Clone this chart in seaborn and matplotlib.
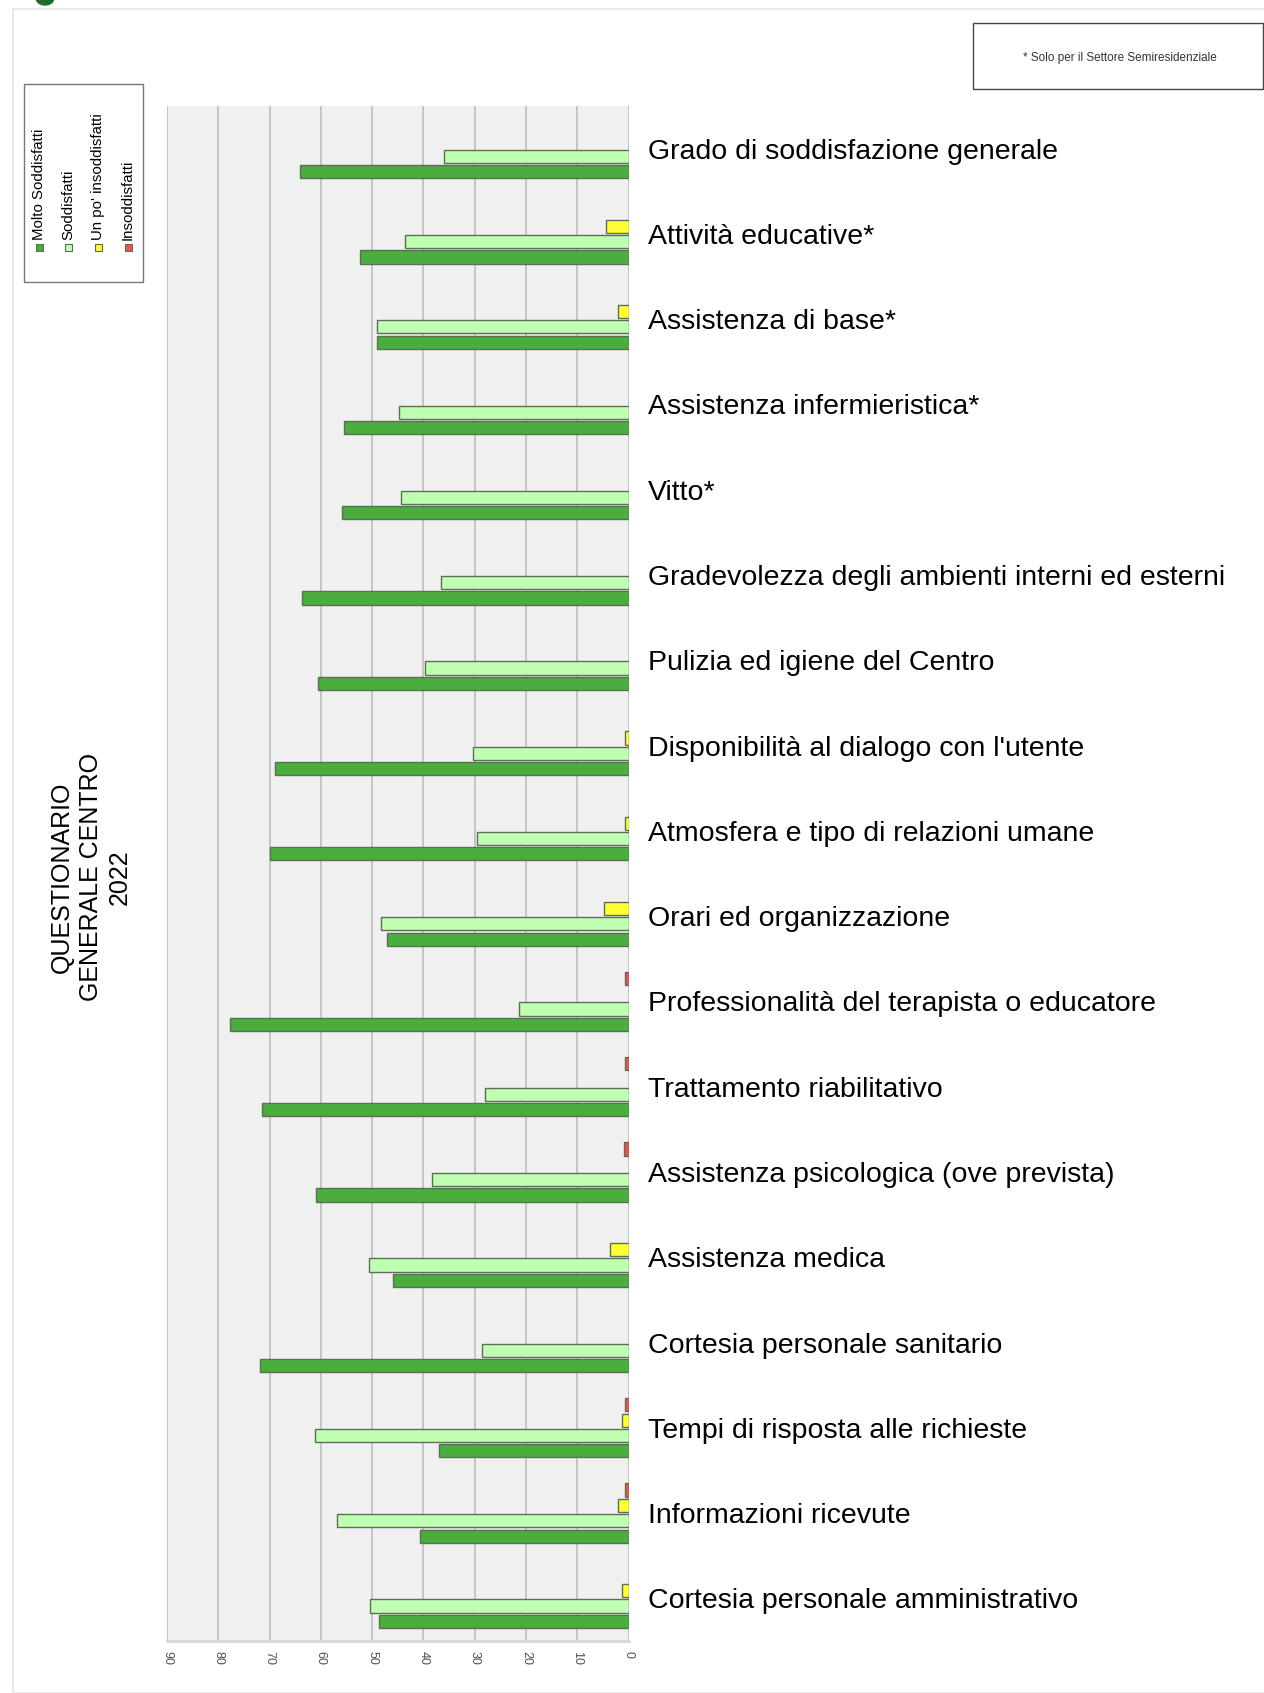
import numpy as np
import pandas as pd
import matplotlib
matplotlib.use("Agg")
import matplotlib.pyplot as plt
from matplotlib.patches import Rectangle, Ellipse
import seaborn as sns

categories = [
    "Grado di soddisfazione generale",
    "Attività educative*",
    "Assistenza di base*",
    "Assistenza infermieristica*",
    "Vitto*",
    "Gradevolezza degli ambienti interni ed esterni",
    "Pulizia ed igiene del Centro",
    "Disponibilità al dialogo con l'utente",
    "Atmosfera e tipo di relazioni umane",
    "Orari ed organizzazione",
    "Professionalità del terapista o educatore",
    "Trattamento riabilitativo",
    "Assistenza psicologica (ove prevista)",
    "Assistenza medica",
    "Cortesia personale sanitario",
    "Tempi di risposta alle richieste",
    "Informazioni ricevute",
    "Cortesia personale amministrativo",
]
molto_soddisfatti = [64.1, 52.3, 49.1, 55.4, 55.9, 63.7, 60.5, 68.9, 70.0, 47.0, 77.8, 71.5, 60.9, 46.0, 71.9, 36.9, 40.7, 48.6]
soddisfatti = [36.0, 43.6, 49.1, 44.7, 44.3, 36.5, 39.6, 30.4, 29.5, 48.3, 21.3, 28.0, 38.4, 50.6, 28.5, 61.1, 56.8, 50.5]
un_po_insoddisfatti = [0, 4.4, 2.1, 0, 0, 0, 0, 0.6, 0.6, 4.8, 0, 0, 0, 3.6, 0, 1.3, 2.1, 1.3]
insoddisfatti = [0, 0, 0, 0, 0, 0, 0, 0, 0, 0, 0.6, 0.6, 0.8, 0, 0, 0.6, 0.6, 0]

series_names = ["Insoddisfatti", "Un po' insoddisfatti", "Soddisfatti", "Molto Soddisfatti"]
series_values = [insoddisfatti, un_po_insoddisfatti, soddisfatti, molto_soddisfatti]
colors = {"Molto Soddisfatti": "#4aae3f", "Soddisfatti": "#bfffb2",
          "Un po' insoddisfatti": "#ffff33", "Insoddisfatti": "#f25050"}
x_ticks = [0, 10, 20, 30, 40, 50, 60, 70, 80, 90]
title_text = "QUESTIONARIO\nGENERALE CENTRO\n2022"
note_text = "* Solo per il Settore Semiresidenziale"

rows = []
for name, vals in zip(series_names, series_values):
    for c, v in zip(categories, vals):
        rows.append({"cat": c, "val": v, "level": name})
df = pd.DataFrame(rows)
df_plot = df[df["val"] > 0]

sns.set_theme(style="white")
plt.rcParams["font.family"] = ["Liberation Sans", "DejaVu Sans"]

W, H = 1264, 1693
fig = plt.figure(figsize=(W / 100, H / 100), dpi=100)
ax = fig.add_axes([167 / W, 1 - 1641 / H, (628.5 - 167) / W, (1641 - 106) / H])
ax.set_facecolor("#f0f0f0")

sns.barplot(data=df_plot, y="cat", x="val", hue="level", order=categories,
            hue_order=series_names, palette=colors, saturation=1, orient="h",
            width=0.72, gap=0.14, edgecolor="#5d6e55", linewidth=1.0,
            legend=False, ax=ax, errorbar=None, zorder=3)

ax.set_xlim(90, 0)
ax.set_ylim(len(categories) - 0.5, -0.5)
ax.set_xticks(x_ticks)
ax.set_xticklabels([str(t) for t in x_ticks], rotation=270, fontsize=9, color="#505050")
ax.tick_params(axis="x", length=0, pad=7)
for t in x_ticks:
    ax.axvline(t, color="#bdbdbd", lw=1.2, zorder=1)
ax.yaxis.tick_right()
ax.set_yticks(range(len(categories)))
ax.set_yticklabels(categories, fontsize=20.5, color="black")
ax.tick_params(axis="y", length=0, pad=14)
ax.set_xlabel("")
ax.set_ylabel("")
for s in ["top", "left", "right"]:
    ax.spines[s].set_visible(False)
ax.spines["bottom"].set_color("#d8d8d8")
ax.spines["bottom"].set_linewidth(2)

# outer frame and logo fragment
fig.patches.append(Rectangle((13 / W, 0), 1.1, 1 - 9 / H, transform=fig.transFigure,
                             fill=False, edgecolor="#e4e4e4", lw=1.2))
fig.patches.append(Ellipse((45 / W, 1 + 2 / H), 18 / W, 14 / H, transform=fig.transFigure,
                           color="#1f6b2a"))

# note box
fig.patches.append(Rectangle((973 / W, 1 - 89 / H), (1263 - 973) / W, 66 / H,
                             transform=fig.transFigure, fill=False, edgecolor="#444444", lw=1.0))
fig.text(1120 / W, 1 - 58 / H, note_text, ha="center", va="center", fontsize=8.5, color="#333333")

# legend box
fig.patches.append(Rectangle((24 / W, 1 - 282 / H), (143 - 24) / W, (282 - 84) / H,
                             transform=fig.transFigure, fill=False, edgecolor="#777777", lw=1.0))
legend_order = ["Molto Soddisfatti", "Soddisfatti", "Un po' insoddisfatti", "Insoddisfatti"]
legend_x = [39, 68, 98, 128]
for name, lx in zip(legend_order, legend_x):
    fig.patches.append(Rectangle(((lx - 3.5) / W, 1 - 251 / H), 7 / W, 7 / H,
                                 transform=fig.transFigure, facecolor=colors[name],
                                 edgecolor="#5d6e55", lw=0.8))
    fig.text(lx / W, 1 - 240 / H, name, rotation=90, ha="center", va="bottom",
             fontsize=10.8, color="black")

# title
fig.text(91 / W, 1 - 877 / H, title_text, rotation=90, ha="center", va="center",
         multialignment="center", fontsize=18, linespacing=1.25, color="black")

fig.savefig("out.png", dpi=100, facecolor="white")
